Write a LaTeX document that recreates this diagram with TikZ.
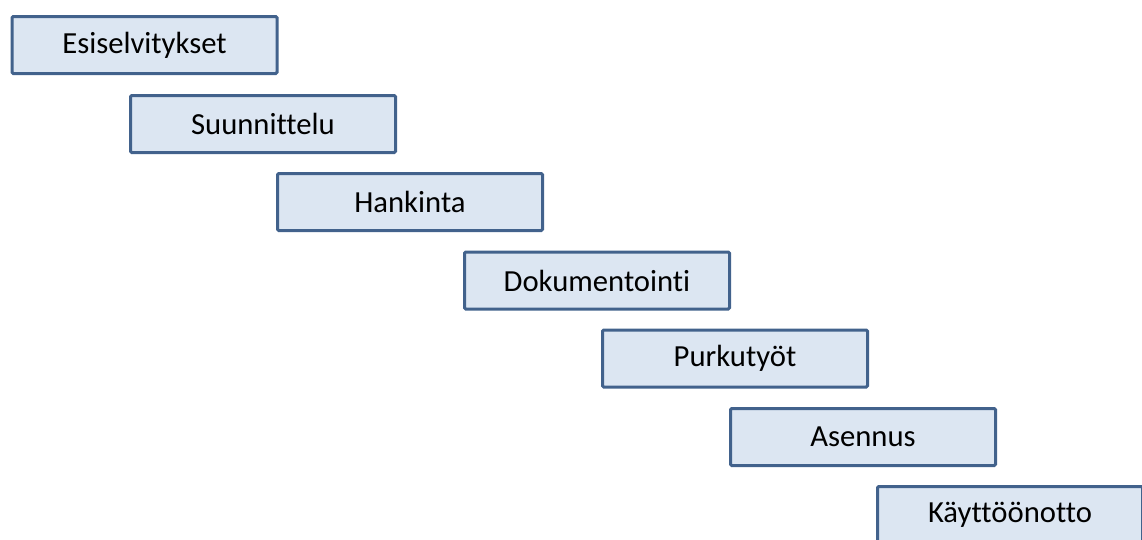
\documentclass[tikz,border=0pt]{standalone}
\usepackage{fontspec}
\setmainfont{Carlito}[Ligatures=NoCommon]
\definecolor{phasefill}{RGB}{220,230,242}
\definecolor{phaseline}{RGB}{66,98,140}
\tikzset{every picture/.style={line width=0.75pt}}
\tikzset{phase/.style={draw=phaseline, fill=phasefill, line width=2.25pt, rounded corners=1pt,
  minimum width=198.75pt, minimum height=42.75pt, inner sep=0pt, font=\fontsize{23}{27}\selectfont}}

\begin{document}
\begin{tikzpicture}[x=0.75pt,y=0.75pt,yscale=-1,xscale=1]
%set diagram size 1142 x 539
\clip (0,0) rectangle (1142,539);

% Text Node
\node [phase] (esiselvitykset) at (144.5,45) {Esiselvitykset};
% Text Node
\node [phase] (suunnittelu) at (263,124) {Suunnittelu};
% Text Node
\node [phase] (hankinta) at (410,202) {Hankinta};
% Text Node
\node [phase] (dokumentointi) at (597,280.5) {Dokumentointi};
% Text Node
\node [phase] (purkutyot) at (735,358.5) {Purkutyöt};
% Text Node
\node [phase] (asennus) at (863,437) {Asennus};
% Text Node
\node [phase] (kayttoonotto) at (1010,515) {Käyttöönotto};

\end{tikzpicture}
\end{document}
